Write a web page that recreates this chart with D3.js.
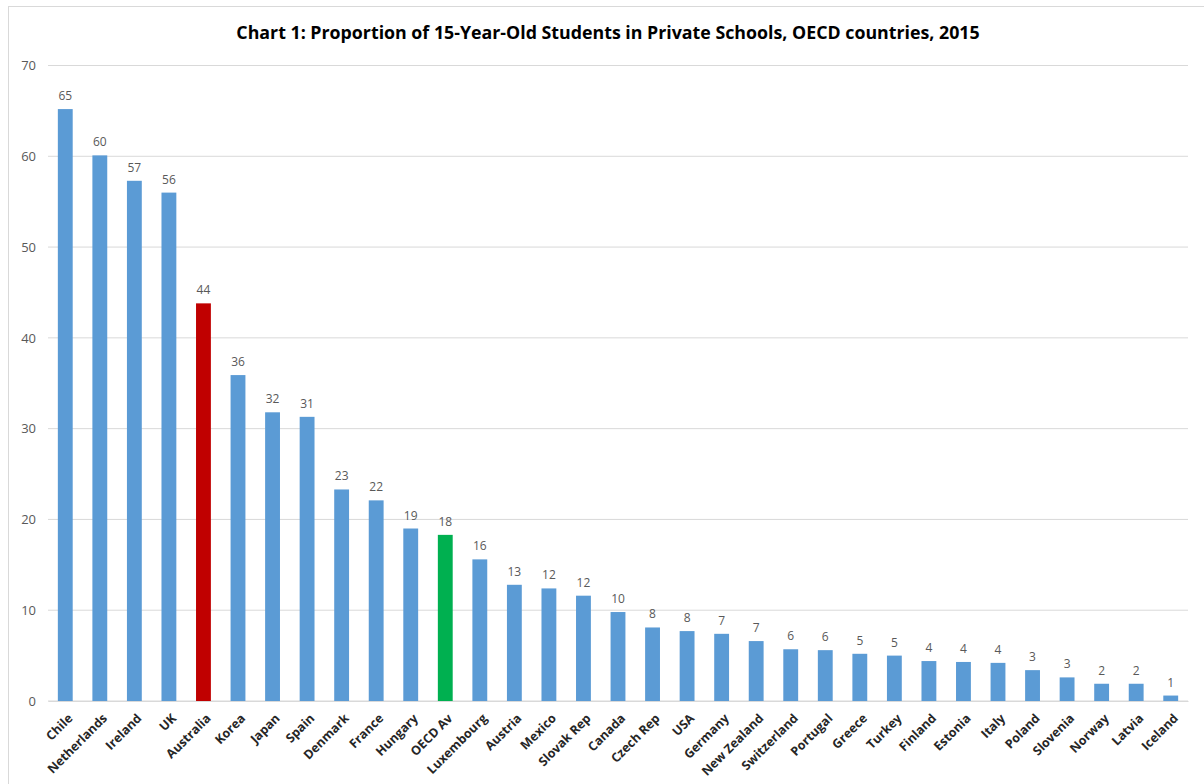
<!DOCTYPE html>
<html><head><meta charset="utf-8">
<script src="https://cdn.jsdelivr.net/npm/d3@7"></script>
<style>body{margin:0;background:#fff;}svg{display:block;font-family:"Open Sans","Liberation Sans",sans-serif;}</style>
</head><body>
<svg id="c" width="1204" height="784"></svg>
<script>
const categories = ["Chile","Netherlands","Ireland","UK","Australia","Korea","Japan","Spain","Denmark","France","Hungary","OECD Av","Luxembourg","Austria","Mexico","Slovak Rep","Canada","Czech Rep","USA","Germany","New Zealand","Switzerland","Portugal","Greece","Turkey","Finland","Estonia","Italy","Poland","Slovenia","Norway","Latvia","Iceland"];
const values = [65.2,60.1,57.3,56.0,43.8,35.9,31.8,31.3,23.3,22.1,19.0,18.3,15.6,12.8,12.4,11.6,9.8,8.1,7.7,7.4,6.6,5.7,5.6,5.2,5.0,4.4,4.3,4.2,3.4,2.6,1.9,1.9,0.6];
const yTicks = [0,10,20,30,40,50,60,70];
const highlight = {"Australia":"#c00000","OECD Av":"#00b050"};
const baseColor = "#5b9bd5";
const title = "Chart 1: Proportion of 15-Year-Old Students in Private Schools, OECD countries, 2015";

const svg = d3.select("#c");
svg.append("rect").attr("x",8.5).attr("y",6.5).attr("width",1220).attr("height",800)
  .attr("fill","#fff").attr("stroke","#d9d9d9");

const x = d3.scaleBand().domain(categories).range([48,1188]).paddingInner(0.57).paddingOuter(0.285);
const y = d3.scaleLinear().domain([0,70]).range([701,65.5]);

// gridlines
svg.append("g").selectAll("line").data(yTicks).join("line")
  .attr("x1",48).attr("x2",1188).attr("y1",d=>y(d)).attr("y2",d=>y(d))
  .attr("stroke","#d9d9d9").attr("stroke-width",1);

// y axis labels
const ya = svg.append("g").attr("transform","translate(36,0)")
  .call(d3.axisLeft(y).tickValues(yTicks).tickSize(0).tickPadding(0));
ya.select(".domain").remove();
ya.selectAll("text").attr("fill","#595959").style("font-size","13px").style("font-family","'Open Sans',sans-serif");

// bars
svg.append("g").selectAll("rect").data(categories).join("rect")
  .attr("x",d=>x(d)).attr("width",x.bandwidth())
  .attr("y",(d,i)=>y(values[i])).attr("height",(d,i)=>y(0)-y(values[i]))
  .attr("fill",d=>highlight[d]||baseColor);

// value labels
svg.append("g").selectAll("text").data(categories).join("text")
  .attr("x",d=>x(d)+x.bandwidth()/2).attr("y",(d,i)=>y(values[i])-9)
  .attr("text-anchor","middle").attr("fill","#595959").style("font-size","12px")
  .text((d,i)=>Math.round(values[i]));

// x axis labels
const xa = svg.append("g").attr("transform","translate(0,701)")
  .call(d3.axisBottom(x).tickSize(0).tickPadding(0));
xa.select(".domain").attr("stroke","#d9d9d9");
xa.selectAll(".tick text")
  .attr("transform","translate(5,15) rotate(-45)")
  .attr("x",0).attr("y",0).attr("dy","0.35em")
  .attr("text-anchor","end").attr("fill","#262626")
  .style("font-size","12.5px").style("font-weight","bold").style("font-family","'Open Sans',sans-serif");

// title
svg.append("text").attr("x",608).attr("y",39).attr("text-anchor","middle")
  .attr("fill","#000").style("font-size","17.8px").style("font-weight","bold").text(title);
</script>
</body></html>
